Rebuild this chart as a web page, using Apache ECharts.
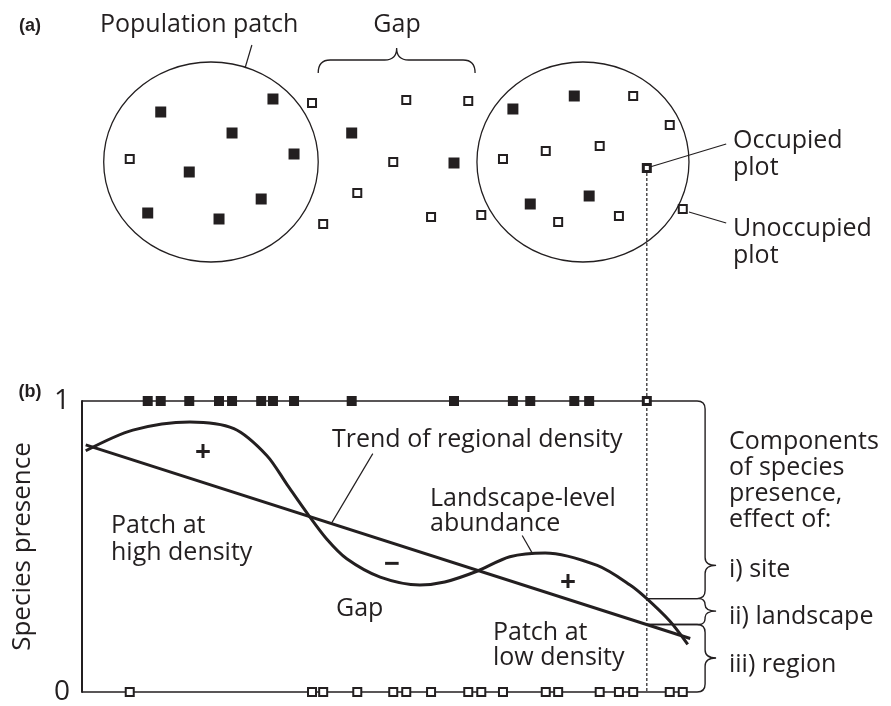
<!DOCTYPE html>
<html>
<head>
<meta charset="utf-8">
<script src="https://cdn.jsdelivr.net/npm/echarts@6/dist/echarts.min.js"></script>
<style>
  html, body { margin: 0; background: #fff; }
  #chart { width: 891px; height: 706px; }
</style>
</head>
<body>
<div id="chart"></div>
<script>
// plots in panel (a): [position along transect, position across]
var occupied = [[10.6, 24.5], [12.7, 75], [17.3, 45], [22.1, 21.5], [24.2, 64.5], [28.9, 31.5], [30.8, 81.5],
  [34.2, 54], [43.5, 64.5], [60.0, 49.5], [69.5, 76.5], [72.3, 29], [79.4, 83], [81.8, 33]];
var unoccupied = [[7.7, 51.5], [37.1, 79.5], [38.9, 19], [44.4, 34.5], [50.2, 50], [52.3, 81], [56.3, 22.5],
  [62.3, 80.5], [64.4, 23.5], [67.9, 51.5], [74.8, 55.5], [76.8, 20], [83.5, 58], [86.6, 23], [88.9, 83],
  [94.8, 68.5], [96.9, 26.5]];
var focalPlot = [91.1, 47];

// population patches: [centre x, centre y, half width, half height]
var patches = [[20.8, 50, 17.3, 50], [80.8, 50, 17.1, 50]];
// gap brace: [from x, to x, end y, tip y]
var gapBrace = [[38.1, 63.4, 94.5, 107]];
// leader lines in panel (a): [x1, y1, x2, y2]
var leadersA = [[27.4, 108.5, 26.3, 97], [91.6, 47.5, 103.9, 59], [97.9, 25, 103.9, 19.5]];

// panel (b)
var landscape = [[0.6, 0.829], [8.2, 0.900], [17.4, 0.928], [24.5, 0.905], [29.8, 0.813], [33.1, 0.712],
  [36.5, 0.609], [39.5, 0.525], [42.7, 0.458], [48.1, 0.395], [54.5, 0.368], [58.5, 0.378], [63.7, 0.415],
  [69.0, 0.465], [74.7, 0.478], [83.1, 0.435], [88.4, 0.368], [91.1, 0.321], [94.8, 0.244], [97.7, 0.164]];
var trend = [[0.6, 0.849], [98.1, 0.184]];
var leadersB = [[46.9, 0.819, 40.3, 0.582], [71.0, 0.538, 72.6, 0.478]];
// components braces: [top y, bottom y, tip y, top line from x, bottom line to x]
var braces = [[1, 0.321, 0.435, 0, 91.1], [0.321, 0.232, 0.278, 91.1, 91.1], [0.232, 0, 0.117, 91.1, 0]];
var yTicks = ['0', '1'];

var ink = '#231f20';
var font = 'Open Sans';
var braceX = 100.5;

var chart = echarts.init(document.getElementById('chart'), null, { renderer: 'canvas' });

function segRender(params, api) {
  var a = api.coord([api.value(0), api.value(1)]);
  var b = api.coord([api.value(2), api.value(3)]);
  return { type: 'line', shape: { x1: a[0], y1: a[1], x2: b[0], y2: b[1] }, style: { stroke: ink, lineWidth: 1.2 } };
}

chart.setOption({
  animation: false,
  grid: [
    { left: 82, width: 620, top: 62, height: 200 },
    { left: 82, width: 620, top: 401, height: 299 }
  ],
  xAxis: [
    { gridIndex: 0, type: 'value', min: 0, max: 100, show: false },
    { gridIndex: 1, type: 'value', min: 0, max: 100, show: false }
  ],
  yAxis: [
    { gridIndex: 0, type: 'value', min: 0, max: 100, show: false },
    {
      gridIndex: 1, type: 'value', min: 0, max: 1, interval: 1,
      name: 'Species presence', nameLocation: 'middle', nameRotate: 90, nameGap: 46,
      nameTextStyle: { color: ink, fontSize: 26, fontFamily: font },
      axisLine: { show: true, lineStyle: { color: ink, width: 2 } },
      axisTick: { show: false },
      splitLine: { show: false },
      axisLabel: {
        color: ink, fontSize: 28, fontFamily: font, margin: 12,
        formatter: function (v) { return yTicks[v]; }
      }
    }
  ],
  series: [
    {
      type: 'custom', xAxisIndex: 0, yAxisIndex: 0, data: patches, z: 1,
      renderItem: function (params, api) {
        var c = api.coord([api.value(0), api.value(1)]);
        var s = api.size([api.value(2), api.value(3)]);
        return { type: 'ellipse', shape: { cx: c[0], cy: c[1], rx: s[0], ry: s[1] },
          style: { stroke: ink, fill: 'none', lineWidth: 1.3 } };
      }
    },
    { type: 'custom', xAxisIndex: 0, yAxisIndex: 0, data: leadersA, z: 1, renderItem: segRender },
    {
      type: 'custom', xAxisIndex: 0, yAxisIndex: 0, data: gapBrace, z: 1,
      renderItem: function (params, api) {
        var l = api.coord([api.value(0), api.value(2)]);
        var r = api.coord([api.value(1), api.value(2)]);
        var t = api.coord([(api.value(0) + api.value(1)) / 2, api.value(3)]);
        var fy = t[1] + 12, k = 12;
        var d = 'M' + l[0] + ' ' + l[1] + 'Q' + l[0] + ' ' + fy + ' ' + (l[0] + k) + ' ' + fy +
          'L' + (t[0] - k) + ' ' + fy + 'Q' + t[0] + ' ' + fy + ' ' + t[0] + ' ' + t[1] +
          'Q' + t[0] + ' ' + fy + ' ' + (t[0] + k) + ' ' + fy +
          'L' + (r[0] - k) + ' ' + fy + 'Q' + r[0] + ' ' + fy + ' ' + r[0] + ' ' + r[1];
        return { type: 'path', shape: { pathData: d }, style: { stroke: ink, fill: 'none', lineWidth: 1.3 } };
      }
    },
    {
      type: 'scatter', xAxisIndex: 0, yAxisIndex: 0, data: occupied, symbol: 'rect', symbolSize: 11, z: 5,
      itemStyle: { color: ink, opacity: 1 }
    },
    {
      type: 'scatter', xAxisIndex: 0, yAxisIndex: 0, data: unoccupied, symbol: 'rect', symbolSize: 8, z: 5,
      itemStyle: { color: '#fff', borderColor: ink, borderWidth: 2, opacity: 1 }
    },
    {
      type: 'scatter', xAxisIndex: 0, yAxisIndex: 0, data: [focalPlot], symbol: 'rect', symbolSize: 7, z: 5,
      itemStyle: { color: '#fff', borderColor: ink, borderWidth: 3, opacity: 1 }
    },
    {
      type: 'custom', xAxisIndex: 1, yAxisIndex: 1, data: braces, z: 1,
      renderItem: function (params, api) {
        var top = api.coord([api.value(3), api.value(0)]);
        var bot = api.coord([api.value(4), api.value(1)]);
        var tipY = api.coord([0, api.value(2)])[1];
        var bx = api.coord([braceX, 0])[0];
        var yT = top[1], yB = bot[1];
        var r = Math.min(8, (tipY - yT) / 2, (yB - tipY) / 2);
        var w = 11;
        var d = 'M' + top[0] + ' ' + yT + 'L' + (bx - r) + ' ' + yT +
          'Q' + bx + ' ' + yT + ' ' + bx + ' ' + (yT + r) +
          'L' + bx + ' ' + (tipY - r) + 'Q' + bx + ' ' + tipY + ' ' + (bx + w) + ' ' + tipY +
          'Q' + bx + ' ' + tipY + ' ' + bx + ' ' + (tipY + r) +
          'L' + bx + ' ' + (yB - r) + 'Q' + bx + ' ' + yB + ' ' + (bx - r) + ' ' + yB +
          'L' + bot[0] + ' ' + yB;
        return { type: 'path', shape: { pathData: d }, style: { stroke: ink, fill: 'none', lineWidth: 1.4 } };
      }
    },
    {
      type: 'line', xAxisIndex: 1, yAxisIndex: 1, data: trend, showSymbol: false, z: 3,
      lineStyle: { color: ink, width: 3 }
    },
    {
      type: 'line', xAxisIndex: 1, yAxisIndex: 1, data: landscape, showSymbol: false, smooth: 0.3, z: 3,
      lineStyle: { color: ink, width: 3 }
    },
    { type: 'custom', xAxisIndex: 1, yAxisIndex: 1, data: leadersB, z: 2, renderItem: segRender },
    {
      type: 'scatter', xAxisIndex: 1, yAxisIndex: 1, symbol: 'rect', symbolSize: 10, z: 5,
      data: occupied.map(function (p) { return [p[0], 1]; }),
      itemStyle: { color: ink, opacity: 1 }
    },
    {
      type: 'scatter', xAxisIndex: 1, yAxisIndex: 1, symbol: 'rect', symbolSize: 8, z: 5,
      data: unoccupied.map(function (p) { return [p[0], 0]; }),
      itemStyle: { color: '#fff', borderColor: ink, borderWidth: 2, opacity: 1 }
    },
    {
      type: 'scatter', xAxisIndex: 1, yAxisIndex: 1, symbol: 'rect', symbolSize: 7, z: 5,
      data: [[focalPlot[0], 1]],
      itemStyle: { color: '#fff', borderColor: ink, borderWidth: 3, opacity: 1 }
    }
  ]
});

function label(text, x, y, opts) {
  opts = opts || {};
  return {
    type: 'text', x: x, y: y, z: 10,
    style: {
      text: text, fill: ink, fontFamily: opts.family || font,
      fontSize: opts.size || 25, fontWeight: opts.weight || 'normal',
      align: opts.align || 'left', verticalAlign: 'middle', lineHeight: opts.lh || 26
    }
  };
}

// dotted link from the focal plot down through panel (b)
var linkTop = chart.convertToPixel({ xAxisIndex: 0, yAxisIndex: 0 }, focalPlot);
var linkBottom = chart.convertToPixel({ xAxisIndex: 1, yAxisIndex: 1 }, [focalPlot[0], 0]);

chart.setOption({
  graphic: [
    {
      type: 'line', z: 1,
      shape: { x1: linkTop[0], y1: linkTop[1] + 5, x2: linkBottom[0], y2: linkBottom[1] },
      style: { stroke: ink, lineWidth: 1.2, lineDash: [3, 2] }
    },
    label('(a)', 30, 26, { size: 18, weight: 'bold', align: 'center', family: 'Liberation Sans' }),
    label('Population patch', 100, 25),
    label('Gap', 397, 25, { align: 'center' }),
    label('Occupied\nplot', 733, 154, { lh: 27 }),
    label('Unoccupied\nplot', 733, 242, { lh: 27 }),
    label('(b)', 30, 392, { size: 18, weight: 'bold', align: 'center', family: 'Liberation Sans' }),
    label('Trend of regional density', 332, 440),
    label('Landscape-level\nabundance', 430, 511, { lh: 25 }),
    label('Patch at\nhigh density', 111, 539, { lh: 27 }),
    label('Gap', 336, 609),
    label('Patch at\nlow density', 493, 645, { lh: 25 }),
    label('+', 203, 453, { size: 28, weight: 'bold', align: 'center' }),
    label('\u2212', 392, 565, { size: 28, weight: 'bold', align: 'center' }),
    label('+', 568, 583, { size: 28, weight: 'bold', align: 'center' }),
    label('Components\nof species\npresence,\neffect of:', 729, 481, { lh: 26 }),
    label('i) site', 729, 570),
    label('ii) landscape', 729, 617),
    label('iii) region', 729, 665)
  ]
});
window.addEventListener('resize', function () { chart.resize(); });
</script>
</body>
</html>
